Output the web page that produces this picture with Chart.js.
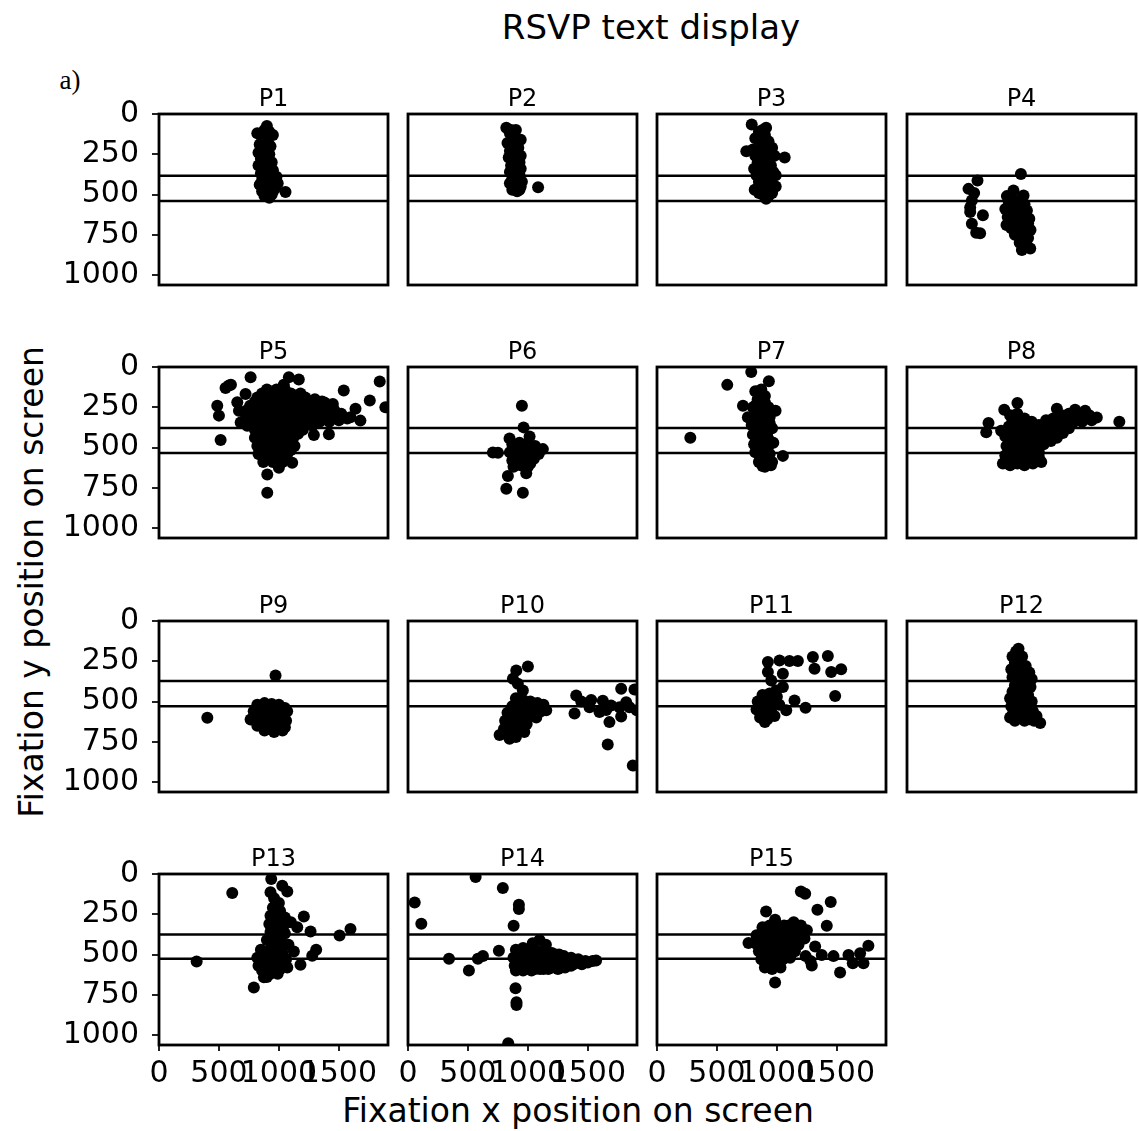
<!DOCTYPE html>
<html>
<head>
<meta charset="utf-8">
<title>RSVP text display</title>
<script src="https://cdn.jsdelivr.net/npm/chart.js@4.4.0/dist/chart.umd.min.js"></script>
<style>
    html, body { margin: 0; padding: 0; background: #fff; }
    #figure { position: relative; width: 1139px; height: 1131px; overflow: hidden; font-family: 'DejaVu Sans', sans-serif; color: #000; }
    .label { position: absolute; white-space: nowrap; line-height: 1; transform: translate(-50%, -50%); }
</style>
</head>
<body>
<div id="figure">
    <div class="label" style="left:651px; top:27px; font-size:34px;">RSVP text display</div>
    <div class="label" style="left:70px; top:80px; font-size:27px; font-family:'Liberation Serif', serif;">a)</div>
    <div class="label" style="left:578px; top:1110px; font-size:33px;">Fixation x position on screen</div>
    <div class="label" style="left:31px; top:582px; font-size:33px; transform:translate(-50%, -50%) rotate(-90deg);">Fixation y position on screen</div>
</div>
<script>
// Participants and axis ticks
const panelNames = ['P1', 'P2', 'P3', 'P4', 'P5', 'P6', 'P7', 'P8', 'P9', 'P10', 'P11', 'P12', 'P13', 'P14', 'P15'];
const xTicks = [0, 500, 1000, 1500];
const yTicks = [0, 250, 500, 750, 1000];

// Text line boundaries (y, px) for each participant
const upperLine = [383, 383, 383, 383, 379, 379, 379, 379, 373, 373, 373, 373, 375, 375, 375];
const lowerLine = [541, 541, 541, 541, 534, 534, 534, 534, 530, 530, 530, 530, 527, 527, 527];

// Fixations as [x, y] screen positions
const fixP1 = [[900,75],[950,130],[820,120],[860,150],[900,160],[840,190],[880,210],[930,200],[830,240],[870,250],[920,250],[850,280],[900,290],[940,300],[830,320],[870,330],[910,340],[950,350],[850,370],[890,380],[940,380],[980,390],[860,410],[900,420],[960,420],[990,430],[840,440],[880,450],[930,450],[970,460],[860,480],[910,490],[950,480],[880,510],[920,520],[1055,485],
    [880,100],[920,110],[860,180],[910,180],[880,230],[900,270],[860,300],[920,320],[880,350],[920,360],[870,390],[920,400],[880,430],[910,460],[940,500],[900,470]];
const fixP2 = [[820,85],[900,100],[850,120],[880,140],[940,160],[830,180],[870,190],[920,210],[850,230],[900,240],[940,260],[840,270],[880,290],[930,300],[860,320],[900,330],[940,340],[850,360],[890,370],[930,380],[870,400],[910,410],[950,420],[850,430],[900,440],[940,450],[870,470],[910,480],[1085,455],
    [860,100],[870,160],[900,170],[880,210],[870,250],[910,280],[880,310],[880,350],[910,350],[900,390],[880,420],[890,460],[930,470],[880,450]];
const fixP3 = [[790,65],[910,85],[850,110],[900,130],[820,150],[870,160],[930,170],[745,232],[800,220],[860,210],[910,230],[960,210],[1065,270],[820,260],[870,270],[930,280],[980,260],[840,300],[890,310],[950,320],[810,340],[860,350],[920,350],[970,360],[830,380],[880,390],[940,400],[990,380],[850,420],[910,430],[960,440],[815,470],[870,460],[930,470],[990,450],[880,500],[930,510],[910,527],
    [880,100],[880,190],[890,240],[900,290],[870,320],[900,370],[860,400],[900,410],[940,420],[880,440],[900,480],[850,490],[960,490]];
const fixP4 = [[588,413],[513,465],[560,490],[541,537],[527,580],[527,609],[633,629],[541,681],[577,738],[610,740],[950,372],[888,475],[833,510],[972,506],[850,550],[920,540],[980,560],[820,590],[880,600],[940,590],[1000,600],[840,640],[900,650],[960,640],[1020,650],[830,690],[870,710],[930,700],[990,700],[1030,720],[900,750],[960,760],[1010,770],[940,800],[990,810],[958,845],[1028,835],
    [860,520],[950,530],[880,570],[960,580],[850,620],[920,620],[980,620],[880,670],[950,670],[1010,680],[930,730],[980,730],[960,780],[970,820]];
const fixP5 = [[764,63],[583,115],[600,110],[555,131],[1083,63],[1166,77],[1041,110],[1841,90],[1541,146],[1758,208],[1888,250],[486,240],[500,302],[722,167],[653,219],[667,271],[1680,333],[1639,260],[1597,312],[514,454],[1417,417],[1292,423],[903,667],[903,781],[1000,625],[1111,594],[681,344],[736,365],
    [900,140],[980,140],[1050,140],
    [820,190],[900,190],[980,190],[1060,190],[1140,190],[1220,190],
    [760,240],[840,240],[920,240],[1000,240],[1080,240],[1160,240],[1240,240],[1320,240],[1400,240],
    [720,290],[800,290],[880,290],[960,290],[1040,290],[1120,290],[1200,290],[1280,290],[1360,290],[1440,290],[1520,290],
    [780,340],[860,340],[940,340],[1020,340],[1100,340],[1180,340],[1260,340],[1340,340],[1420,340],[1500,330],[1570,320],
    [800,390],[880,390],[960,390],[1040,390],[1120,390],[1200,390],
    [800,440],[880,440],[960,440],[1040,440],[1120,440],
    [820,490],[900,490],[980,490],[1060,490],[1130,490],
    [830,540],[910,540],[990,540],[1070,540],
    [870,590],[950,590],[1030,590],
    [1300,200],[1380,220],[1450,230],
    [860,165],[940,165],[1020,165],[1100,165],[1180,165],
    [800,215],[880,215],[960,215],[1040,215],[1120,215],[1200,215],[1280,215],[1360,215],
    [740,265],[820,265],[900,265],[980,265],[1060,265],[1140,265],[1220,265],[1300,265],[1380,265],[1460,265],
    [760,315],[840,315],[920,315],[1000,315],[1080,315],[1160,315],[1240,315],[1320,315],[1400,315],[1480,315],
    [800,365],[880,365],[960,365],[1040,365],[1120,365],[1200,365],[1280,365],
    [840,415],[920,415],[1000,415],[1080,415],[1160,415],
    [840,465],[920,465],[1000,465],[1080,465],
    [860,515],[940,515],[1020,515],[1100,515],
    [870,565],[950,565],[1030,565]];
const fixP6 = [[950,240],[964,375],[1014,431],[847,444],[708,531],[750,533],[1125,510],[870,480],[930,470],[990,480],[1060,490],[850,530],[910,520],[970,530],[1030,530],[1090,540],[870,580],[930,570],[990,580],[1050,570],[880,620],[940,610],[1000,620],[833,677],[986,660],[820,756],[958,781],
    [900,500],[960,500],[1020,510],[880,550],[940,550],[1000,550],[900,600],[960,600],[1020,600]];
const fixP7 = [[786,31],[586,111],[933,88],[278,440],[820,150],[870,140],[900,180],[840,200],[900,220],[717,240],[800,250],[860,260],[930,250],[989,271],[758,312],[820,310],[880,320],[940,310],[790,360],[850,370],[910,370],[960,380],[800,420],[860,430],[920,430],[810,480],[870,480],[930,490],[970,470],[820,530],[880,540],[940,540],[1050,552],[850,590],[910,600],[960,590],[880,615],
    [860,170],[830,230],[880,230],[850,290],[910,290],[820,340],[880,340],[940,350],[830,390],[890,400],[830,450],[890,450],[940,460],[850,510],[910,510],[860,560],[920,570],[900,620],[950,610]];
const fixP8 = [[921,223],[811,265],[680,348],[661,406],[785,396],[1771,340],[1250,260],[1402,265],[1486,271],[1583,313],[860,300],[920,290],[980,320],[1040,340],[1100,360],[1160,330],[1220,320],[1290,300],[1350,290],[1430,300],[1520,300],[1540,330],[1460,340],[1380,350],[1300,360],[1240,380],[1180,400],[1120,420],[1300,410],[1250,440],[1200,460],[1140,480],[1080,500],[850,370],[900,360],[960,380],[1020,400],[1080,430],[820,430],[880,420],[940,440],[1000,460],[1060,470],[830,490],[890,480],[950,500],[1010,520],[1100,530],[820,550],[880,540],[940,560],[1000,570],[1060,560],[1120,590],[800,600],[860,610],[920,600],[980,610],[1050,600],
    [880,330],[940,330],[1000,350],[1060,370],[1120,380],[1180,370],[1240,350],[1320,330],[1400,320],[1480,310],[1350,380],[900,400],[960,410],[1020,430],[1080,460],[1140,450],[850,460],[910,460],[970,480],[1030,490],[850,520],[910,510],[970,530],[1040,540],[850,580],[910,580],[970,590],[1030,580],[1100,560]];
const fixP9 = [[972,338],[403,601],[820,520],[880,510],[940,515],[1000,520],[1050,540],[790,560],[850,560],[910,560],[970,560],[1030,570],[1069,560],[764,612],[830,610],[890,600],[950,610],[1010,610],[1060,620],[820,650],[880,650],[940,650],[1000,650],[1050,660],[880,680],[960,690],[1030,680],
    [850,530],[910,530],[970,530],[820,590],[880,580],[940,580],[1000,590],[850,630],[910,630],[970,630],[1030,640],[910,670],[990,670]];
const fixP10 = [[1000,282],[903,307],[875,358],[916,390],[958,431],[900,480],[960,490],[1020,500],[1080,510],[1130,520],[870,530],[930,530],[990,540],[1050,550],[1110,560],[1153,555],[830,570],[890,580],[950,580],[1010,590],[1070,600],[810,620],[870,630],[930,630],[990,640],[800,670],[860,680],[920,680],[970,690],[764,708],[847,731],[900,720],[1403,462],[1389,574],[1445,500],[1528,490],[1514,536],[1625,495],[1653,553],[1694,525],[1764,535],[1778,593],[1680,628],[1597,565],[1778,421],[1889,425],[1847,535],[1908,555],[1666,767],[1875,898],[1820,505],
    [930,510],[990,520],[1050,530],[900,560],[960,560],[1020,570],[860,600],[920,610],[980,610],[830,650],[890,650],[950,660],[830,700]];
const fixP11 = [[925,255],[1022,245],[1105,248],[1175,248],[1300,224],[1425,218],[1314,296],[1453,317],[1536,300],[1486,466],[925,317],[953,369],[1050,327],[1050,410],[994,431],[1147,493],[1239,539],[1078,555],[880,460],[940,450],[1000,470],[840,500],[900,510],[960,500],[1020,520],[830,550],[890,560],[950,555],[860,600],[920,610],[980,590],[900,628],
    [870,520],[930,530],[860,570],[920,580]];
const fixP12 = [[930,172],[880,220],[960,220],[900,260],[990,280],[870,300],[940,300],[1020,320],[880,350],[950,350],[1040,360],[900,400],[970,400],[1030,410],[880,440],[950,450],[1010,460],[900,490],[970,490],[1040,500],[870,530],[940,540],[1010,540],[880,580],[950,580],[1030,580],[1080,590],[900,620],[980,620],[1111,634],
    [910,190],[920,240],[930,270],[900,320],[960,330],[920,370],[1000,380],[930,420],[990,430],[920,470],[860,480],[950,510],[1020,520],[910,560],[980,560],[1050,560],[860,600],[940,600],[1020,610],[1060,620]];
const fixP13 = [[936,31],[611,118],[930,114],[1028,73],[1070,109],[314,543],[791,705],[1208,264],[1597,342],[1506,382],[1264,357],[1153,330],[1311,471],[1278,508],[1125,481],[1180,564],[960,150],[1000,180],[950,210],[1010,230],[930,260],[990,280],[1050,270],[920,310],[980,330],[1040,320],[1100,300],[930,360],[990,380],[1050,370],[900,410],[960,430],[1020,420],[1080,440],[850,470],[910,480],[970,470],[1030,490],[820,520],[880,530],[940,520],[1000,540],[1060,530],[830,570],[890,580],[950,570],[1010,590],[1070,580],[875,641],[930,620],[990,620],
    [970,240],[950,290],[1010,300],[960,350],[1020,350],[930,390],[1000,400],[940,450],[1000,460],[880,500],[950,500],[1010,510],[860,550],[920,550],[980,560],[860,600],[920,590],[980,600],[900,640]];
const fixP14 = [[564,19],[56,177],[111,309],[791,87],[925,191],[925,218],[881,322],[758,476],[342,527],[508,600],[583,527],[625,509],[897,709],[905,796],[905,813],[836,1051],[1569,537],[1097,410],[1040,430],[1150,440],[900,470],[960,460],[1020,470],[1080,480],[1140,480],[1200,490],[1260,500],[880,520],[940,510],[1000,520],[1060,530],[1120,520],[1180,530],[1240,520],[1300,510],[1360,520],[1420,530],[1480,540],[890,570],[950,560],[1010,570],[1070,570],[1130,570],[1190,560],[1250,560],[1310,560],[1380,560],[1450,560],[900,600],[960,600],[1030,600],[1100,590],[1170,590],[1250,590],[1310,580],[1360,570],
    [930,490],[990,490],[1050,500],[1110,500],[1170,510],[1230,500],[920,540],[980,540],[1040,550],[1100,550],[1160,550],[1220,540],[1280,540],[1340,540],[1400,540],[930,580],[990,580],[1060,590],[1130,590],[1200,580],[1280,580],[1420,550],[1500,550],[1540,540]];
const fixP15 = [[1200,108],[1236,122],[1449,174],[1338,222],[910,233],[1416,322],[985,284],[763,429],[1319,450],[985,674],[1527,612],[1763,446],[1694,492],[1722,555],[1633,555],[1597,503],[1374,503],[1472,510],[1291,568],[1140,300],[1200,320],[1250,350],[880,330],[940,320],[1000,330],[1060,320],[1120,340],[830,380],[890,370],[950,380],[1010,380],[1070,390],[1130,400],[1190,390],[820,430],[880,430],[940,430],[1000,440],[1060,440],[1120,450],[1180,440],[850,480],[910,480],[970,490],[1030,490],[1090,490],[1150,480],[1240,510],[870,530],[930,540],[990,530],[1050,530],[1110,520],[900,580],[960,590],[1030,580],[1280,540],
    [910,350],[970,350],[1030,350],[1090,360],[1160,370],[860,400],[920,400],[980,410],[1040,410],[1100,420],[1160,420],[850,450],[910,450],[970,460],[1030,460],[1090,470],[880,500],[940,510],[1000,510],[1060,500],[900,550],[960,560],[1020,560],[1200,360],[1230,400],[1100,320],[1170,330]];

const fixations = [fixP1, fixP2, fixP3, fixP4, fixP5, fixP6, fixP7, fixP8, fixP9, fixP10, fixP11, fixP12, fixP13, fixP14, fixP15];

// Facet grid layout
const X_MAX = 1910;
const Y_MAX = 1062;
const COLS = 4;
const PANEL_W = 229;
const PANEL_H = 171;
const AXIS_W = 110;
const TITLE_H = 42;
const AXIS_H = 50;
const RIGHT_PAD = 6;

Chart.defaults.font.family = "'DejaVu Sans', sans-serif";
Chart.defaults.color = '#000';

// box around each facet
const panelFrame = {
    id: 'panelFrame',
    afterDatasetsDraw(chart) {
        const {ctx, chartArea: a} = chart;
        ctx.save();
        ctx.strokeStyle = '#000';
        ctx.lineWidth = 2.8;
        ctx.strokeRect(a.left, a.top, a.right - a.left, a.bottom - a.top);
        ctx.restore();
    }
};

function guideLine(y, xMax) {
    return {
        type: 'line',
        data: [{x: 0, y: y}, {x: xMax, y: y}],
        borderColor: '#000',
        borderWidth: 2.5,
        pointRadius: 0,
        showLine: true,
        clip: 0
    };
}

function plainTick(value) {
    return String(value);
}

const figure = document.getElementById('figure');

panelNames.forEach(function(name, i) {
    const row = Math.floor(i / COLS);
    const col = i % COLS;
    const left = Math.round(158.5 + col * 249.4);
    const top = Math.round(114 + row * 253.3);
    const firstCol = col === 0;
    const bottomRow = row === 3;

    const w = AXIS_W + PANEL_W + RIGHT_PAD;
    const h = TITLE_H + PANEL_H + AXIS_H;
    const canvas = document.createElement('canvas');
    canvas.width = w;
    canvas.height = h;
    canvas.style.cssText = 'position:absolute;left:' + (left - AXIS_W) + 'px;top:' + (top - TITLE_H) + 'px;width:' + w + 'px;height:' + h + 'px';
    figure.appendChild(canvas);

    new Chart(canvas, {
        type: 'scatter',
        data: {
            datasets: [{
                data: fixations[i].map(function(p) { return {x: p[0], y: p[1]}; }),
                backgroundColor: '#000',
                pointRadius: 6,
                pointBorderWidth: 0,
                clip: 0
            },
            guideLine(upperLine[i], X_MAX),
            guideLine(lowerLine[i], X_MAX)]
        },
        options: {
            responsive: false,
            animation: false,
            events: [],
            layout: {
                autoPadding: false,
                padding: {left: 0, top: 0, right: RIGHT_PAD, bottom: 0}
            },
            plugins: {
                legend: {display: false},
                tooltip: {enabled: false},
                title: {
                    display: true,
                    fullSize: false,
                    text: name,
                    color: '#000',
                    font: {size: 24, weight: 'normal'},
                    padding: {top: 13.1, bottom: 0.1}
                }
            },
            scales: {
                x: {
                    type: 'linear',
                    min: 0,
                    max: X_MAX,
                    afterBuildTicks: function(s) { s.ticks = xTicks.map(function(v) { return {value: v}; }); },
                    afterFit: function(s) { s.height = AXIS_H; },
                    border: {display: false},
                    grid: {display: bottomRow, drawOnChartArea: false, drawTicks: true, tickLength: 6, color: '#222', lineWidth: 2},
                    ticks: {display: bottomRow, autoSkip: false, maxRotation: 0, minRotation: 0, padding: 5, color: '#000', font: {size: 30}, callback: plainTick}
                },
                y: {
                    type: 'linear',
                    reverse: true,
                    min: 0,
                    max: Y_MAX,
                    afterBuildTicks: function(s) { s.ticks = yTicks.map(function(v) { return {value: v}; }); },
                    afterFit: function(s) { s.width = AXIS_W; },
                    border: {display: false},
                    grid: {display: firstCol, drawOnChartArea: false, drawTicks: true, tickLength: 7, color: '#222', lineWidth: 2},
                    ticks: {display: firstCol, autoSkip: false, padding: 13, color: '#000', font: {size: 30}, callback: plainTick}
                }
            }
        },
        plugins: [panelFrame]
    });
});
</script>
</body>
</html>
